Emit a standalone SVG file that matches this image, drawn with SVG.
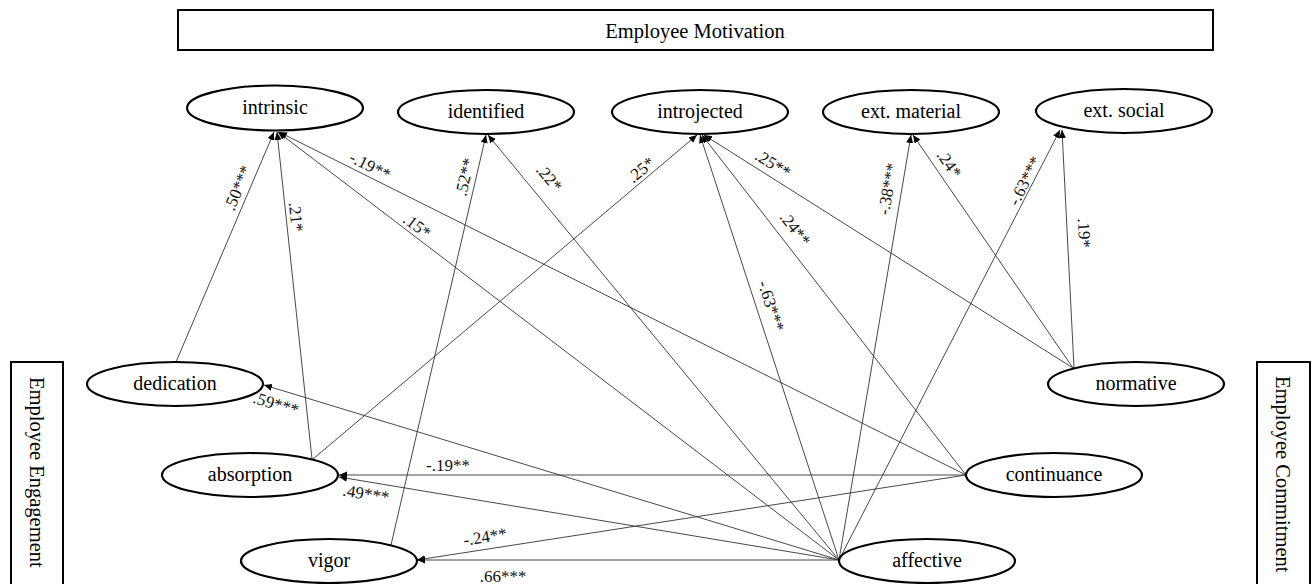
<svg xmlns="http://www.w3.org/2000/svg" width="1315" height="584" viewBox="0 0 1315 584">
<defs>
<style>
.box{fill:#fff;stroke:#000;stroke-width:2}
.node ellipse{fill:#fff;stroke:#000;stroke-width:2.2}
.nt{font-family:"Liberation Serif","Times New Roman",serif;font-size:20px;fill:#000;text-anchor:middle;dominant-baseline:central}
.bt{font-family:"Liberation Serif","Times New Roman",serif;font-size:20.5px;fill:#000;dominant-baseline:central}
.e{stroke:#333;stroke-width:0.9;fill:none;marker-end:url(#ah)}
.lb{font-family:"Liberation Serif","Times New Roman",serif;font-size:17px;fill:#111;text-anchor:middle;dominant-baseline:central}
</style>
<marker id="ah" markerUnits="userSpaceOnUse" markerWidth="9" markerHeight="8" refX="8" refY="3.5" orient="auto">
<path d="M0,0 L8,3.5 L0,7 z" fill="#000"/>
</marker>
</defs>
<rect width="1315" height="584" fill="#fff"/>

<g id="box-motivation">
<rect class="box" x="178" y="10" width="1035" height="40"/>
<text class="bt" x="695" y="31" text-anchor="middle">Employee Motivation</text>
</g>
<g id="box-engagement">
<rect class="box" x="11" y="362" width="52" height="230"/>
<text class="bt" transform="translate(37,377) rotate(90)" text-anchor="start">Employee Engagement</text>
</g>
<g id="box-commitment">
<rect class="box" x="1257" y="362" width="53" height="230"/>
<text class="bt" transform="translate(1283,376) rotate(90)" text-anchor="start">Employee Commitment</text>
</g>

<g id="connectors">
<line class="e" x1="176" y1="362" x2="274" y2="132"/>
<line class="e" x1="312" y1="459" x2="277" y2="132"/>
<line class="e" x1="966" y1="475" x2="279" y2="132"/>
<line class="e" x1="839" y1="560" x2="278" y2="132"/>
<line class="e" x1="391" y1="545" x2="486" y2="135"/>
<line class="e" x1="839" y1="560" x2="488" y2="135"/>
<line class="e" x1="313" y1="459" x2="697" y2="135"/>
<line class="e" x1="839" y1="560" x2="700" y2="135"/>
<line class="e" x1="966" y1="475" x2="702" y2="135"/>
<line class="e" x1="1073" y1="368" x2="704" y2="135"/>
<line class="e" x1="839" y1="560" x2="911" y2="135"/>
<line class="e" x1="1073" y1="368" x2="913" y2="135"/>
<line class="e" x1="839" y1="560" x2="1060" y2="130"/>
<line class="e" x1="1074" y1="368" x2="1062" y2="130"/>
<line class="e" x1="839" y1="560" x2="264" y2="385"/>
<line class="e" x1="966" y1="475" x2="339" y2="475"/>
<line class="e" x1="839" y1="560" x2="339" y2="477"/>
<line class="e" x1="966" y1="475" x2="417" y2="560"/>
<line class="e" x1="839" y1="560" x2="417" y2="560"/>

<text class="lb" transform="translate(238,188) rotate(-67)">.50***</text>
<text class="lb" transform="translate(296,217) rotate(83.5)">.21*</text>
<text class="lb" transform="translate(370,166) rotate(26.6)">-.19**</text>
<text class="lb" transform="translate(417,226) rotate(37)">.15*</text>
<text class="lb" transform="translate(465,177) rotate(-76.5)">.52**</text>
<text class="lb" transform="translate(549,178) rotate(50)">.22*</text>
<text class="lb" transform="translate(641,170) rotate(-40)">.25*</text>
<text class="lb" transform="translate(771,306) rotate(72)">-.63***</text>
<text class="lb" transform="translate(795,229) rotate(52)">.24**</text>
<text class="lb" transform="translate(773,164) rotate(32)">.25**</text>
<text class="lb" transform="translate(888,189) rotate(-80)">-.38***</text>
<text class="lb" transform="translate(949,164) rotate(55)">.24*</text>
<text class="lb" transform="translate(1025,181) rotate(-62.7)">-.63***</text>
<text class="lb" transform="translate(1084,233) rotate(87)">.19*</text>
<text class="lb" transform="translate(276,404) rotate(17)">.59***</text>
<text class="lb" transform="translate(448,465)">-.19**</text>
<text class="lb" transform="translate(366,494) rotate(9.4)">.49***</text>
<text class="lb" transform="translate(485,537) rotate(-9)">-.24**</text>
<text class="lb" transform="translate(503,576)">.66***</text>
</g>

<g id="intrinsic" class="node"><ellipse cx="275" cy="108" rx="88" ry="22.5"/><text class="nt" font-family="Liberation Serif, serif" x="275" y="107">intrinsic</text></g>
<g id="identified" class="node"><ellipse cx="486" cy="112" rx="88" ry="22"/><text class="nt" font-family="Liberation Serif, serif" x="486" y="111">identified</text></g>
<g id="introjected" class="node"><ellipse cx="700" cy="112" rx="88" ry="22"/><text class="nt" font-family="Liberation Serif, serif" x="700" y="111">introjected</text></g>
<g id="ext-material" class="node"><ellipse cx="911" cy="112" rx="88" ry="22"/><text class="nt" font-family="Liberation Serif, serif" x="911" y="111">ext. material</text></g>
<g id="ext-social" class="node"><ellipse cx="1124" cy="111" rx="88" ry="22"/><text class="nt" font-family="Liberation Serif, serif" x="1124" y="110">ext. social</text></g>
<g id="dedication" class="node"><ellipse cx="175" cy="384" rx="88" ry="22"/><text class="nt" font-family="Liberation Serif, serif" x="175" y="383">dedication</text></g>
<g id="absorption" class="node"><ellipse cx="250" cy="475" rx="88" ry="22"/><text class="nt" font-family="Liberation Serif, serif" x="250" y="474">absorption</text></g>
<g id="vigor" class="node"><ellipse cx="329" cy="561" rx="88" ry="22"/><text class="nt" font-family="Liberation Serif, serif" x="329" y="560">vigor</text></g>
<g id="normative" class="node"><ellipse cx="1136" cy="384" rx="88" ry="22"/><text class="nt" font-family="Liberation Serif, serif" x="1136" y="383">normative</text></g>
<g id="continuance" class="node"><ellipse cx="1054" cy="475" rx="88" ry="22"/><text class="nt" font-family="Liberation Serif, serif" x="1054" y="474">continuance</text></g>
<g id="affective" class="node"><ellipse cx="927" cy="561" rx="88" ry="22"/><text class="nt" font-family="Liberation Serif, serif" x="927" y="560">affective</text></g>
</svg>
